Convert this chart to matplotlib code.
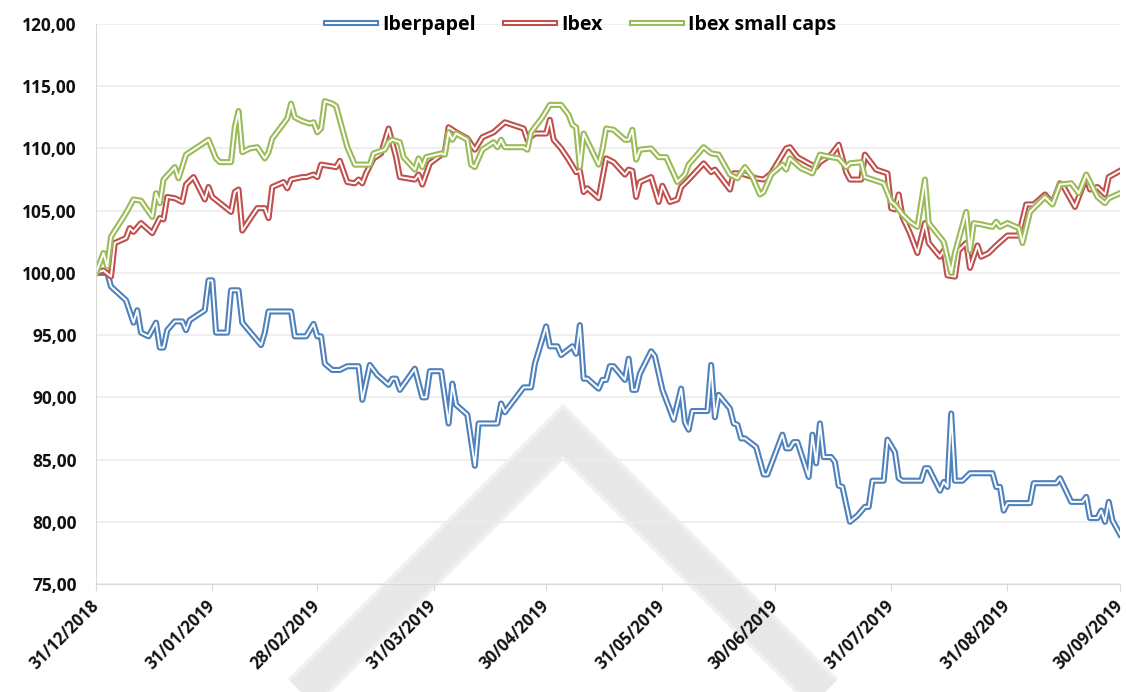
import datetime as dt
import matplotlib
matplotlib.use("Agg")
import matplotlib.pyplot as plt
from matplotlib.lines import Line2D
from matplotlib.legend_handler import HandlerTuple
from matplotlib.ticker import FuncFormatter

plt.rcParams['font.family'] = ['Open Sans', 'DejaVu Sans']
plt.rcParams['font.weight'] = 'bold'

inicio = dt.date(2018, 12, 31)

# dias desde 31/12/2018, valores base 100
iberpapel_dias = [0, 3, 4, 8, 10, 11, 12, 14, 16, 17, 18, 19, 21, 23, 24, 25, 29, 30, 31, 32,
                  35, 36, 38, 39, 44, 45, 46, 52, 53, 56, 58, 59, 60, 61, 63, 65, 67, 70, 71, 73,
                  75, 78, 79, 80, 81, 85, 87, 88, 89, 92, 94, 95, 96, 99, 101, 102, 107, 108, 109, 114,
                  116, 117, 120, 121, 123, 124, 127, 128, 129, 130, 131, 134, 135, 136, 137, 138, 141, 142, 143, 144,
                  145, 148, 149, 151, 154, 156, 157, 158, 159, 163, 164, 165, 166, 169, 170, 171, 172, 173, 176, 178,
                  179, 183, 184, 185, 186, 187, 190, 191, 192, 193, 194, 196, 197, 198, 199, 201, 203, 205, 206, 207,
                  210, 211, 213, 214, 215, 220, 221, 222, 225, 226, 227, 228, 229, 231, 233, 239, 240, 241, 242, 243,
                  249, 250, 256, 257, 260, 263, 264, 265, 267, 268, 269, 270, 271, 273]
iberpapel = [100.0, 100.0, 98.9, 97.8, 96.0, 97.0, 95.2, 94.9, 96.0, 94.0, 94.0, 95.4, 96.1, 96.1, 95.4, 96.2, 97.0, 99.4, 99.4, 95.2,
             95.2, 98.6, 98.6, 96.0, 94.2, 95.2, 96.9, 96.9, 94.9, 94.9, 95.9, 94.9, 94.9, 92.7, 92.2, 92.2, 92.5, 92.5, 89.8, 92.6,
             91.8, 91.0, 91.5, 91.5, 90.6, 92.3, 90.0, 90.0, 92.1, 92.1, 87.9, 91.1, 89.4, 88.6, 84.5, 87.9, 87.9, 89.5, 88.8, 90.8,
             90.8, 92.7, 95.7, 94.1, 94.1, 93.4, 94.1, 93.5, 95.8, 91.5, 91.5, 90.7, 91.4, 91.4, 92.5, 92.5, 91.4, 93.1, 90.6, 90.6,
             91.9, 93.7, 93.3, 90.6, 88.2, 90.7, 88.0, 87.4, 88.9, 88.9, 92.6, 88.4, 90.2, 89.1, 87.9, 87.8, 86.7, 86.7, 86.0, 83.8,
             83.8, 87.0, 85.9, 85.9, 86.4, 86.4, 83.6, 87.0, 84.7, 87.9, 85.2, 85.2, 84.8, 82.9, 82.8, 80.0, 80.5, 81.2, 81.2, 83.3,
             83.3, 86.6, 85.6, 83.5, 83.3, 83.3, 84.3, 84.3, 82.5, 83.2, 82.8, 88.7, 83.3, 83.3, 83.9, 83.9, 82.8, 82.8, 80.9, 81.5,
             81.5, 83.1, 83.1, 83.5, 81.6, 81.6, 82.0, 80.3, 80.3, 80.9, 80.0, 81.6, 80.1, 79.0]

ibex_dias = [0, 2, 4, 5, 8, 9, 10, 12, 15, 17, 18, 19, 21, 23, 24, 26, 29, 30, 31, 36,
             37, 38, 39, 43, 45, 46, 47, 50, 51, 52, 55, 56, 58, 59, 60, 64, 65, 67, 69, 70,
             71, 72, 74, 76, 78, 80, 81, 85, 86, 87, 89, 93, 94, 96, 99, 101, 103, 106, 109, 114,
             115, 117, 120, 121, 122, 124, 126, 128, 129, 130, 131, 134, 136, 138, 141, 142, 143, 144, 145, 148,
             150, 151, 153, 155, 156, 158, 162, 164, 165, 169, 170, 172, 176, 178, 180, 184, 185, 187, 190, 192,
             193, 196, 198, 200, 201, 204, 205, 208, 211, 212, 213, 214, 215, 217, 219, 221, 222, 225, 226, 227,
             229, 230, 232, 233, 235, 236, 238, 240, 243, 246, 248, 250, 253, 255, 257, 258, 261, 264, 265, 267,
             269, 270, 273]
ibex = [100.0, 100.2, 99.7, 102.4, 102.8, 103.6, 103.3, 104.0, 103.2, 104.4, 104.3, 106.1, 106.0, 105.7, 107.1, 107.7, 105.9, 106.9, 106.1, 104.9,
        106.5, 106.7, 103.4, 105.2, 105.2, 104.4, 106.9, 107.3, 106.8, 107.5, 107.7, 107.7, 107.9, 107.7, 108.7, 108.5, 109.0, 107.3, 107.2, 107.5,
        107.2, 108.0, 109.2, 109.6, 111.6, 109.3, 107.7, 107.5, 107.9, 107.1, 108.8, 109.7, 111.7, 111.3, 110.8, 109.9, 110.9, 111.3, 112.1, 111.6,
        110.7, 111.2, 111.2, 112.3, 110.7, 110.0, 109.1, 108.1, 108.2, 106.5, 106.8, 106.0, 109.2, 108.9, 107.9, 108.3, 108.2, 106.1, 107.3, 107.7,
        105.7, 107.0, 105.7, 105.9, 106.9, 107.5, 108.8, 108.1, 108.3, 106.7, 108.0, 108.0, 107.6, 107.5, 108.0, 110.0, 110.1, 109.3, 108.8, 108.5,
        108.9, 109.5, 110.3, 108.1, 107.5, 107.5, 109.5, 108.3, 108.0, 105.2, 105.1, 106.3, 104.5, 103.2, 101.6, 104.0, 102.4, 101.3, 101.8, 99.8,
        99.7, 101.8, 102.4, 100.4, 102.2, 101.3, 101.6, 102.2, 103.0, 103.0, 105.5, 105.5, 106.3, 105.6, 107.2, 106.9, 105.3, 107.7, 106.7, 106.9,
        106.3, 107.7, 108.2]

small_dias = [0, 2, 3, 4, 8, 10, 12, 15, 16, 17, 18, 21, 22, 24, 26, 30, 32, 33, 36, 37,
              38, 39, 41, 43, 45, 46, 47, 50, 51, 52, 53, 55, 57, 58, 59, 60, 61, 63, 64, 67,
              69, 73, 74, 77, 78, 79, 81, 82, 85, 86, 87, 88, 92, 93, 94, 95, 96, 99, 100, 101,
              103, 106, 107, 108, 109, 114, 115, 116, 119, 121, 124, 126, 127, 128, 129, 130, 134, 135, 136, 138,
              141, 142, 143, 144, 145, 148, 150, 152, 155, 157, 158, 162, 164, 166, 169, 171, 173, 175, 177, 178,
              180, 183, 184, 185, 188, 191, 193, 196, 198, 200, 201, 204, 205, 210, 212, 213, 215, 217, 219, 221,
              222, 226, 228, 229, 232, 233, 234, 236, 239, 240, 241, 243, 246, 247, 249, 253, 255, 257, 260, 262,
              264, 267, 269, 270, 273]
small_caps = [100.0, 101.6, 100.5, 102.9, 104.8, 105.9, 105.8, 104.5, 106.4, 105.6, 107.5, 108.5, 107.6, 109.5, 109.9, 110.7, 109.2, 108.9, 108.9, 111.7,
              113.0, 109.7, 110.0, 110.1, 109.2, 109.7, 110.8, 112.0, 112.4, 113.6, 112.5, 112.2, 112.0, 112.1, 111.3, 111.6, 113.8, 113.6, 113.4, 110.1,
              108.7, 108.7, 109.6, 109.9, 110.5, 110.7, 110.5, 109.3, 108.3, 109.2, 108.5, 109.3, 109.6, 109.5, 111.3, 110.7, 111.2, 110.7, 108.7, 108.5,
              109.9, 110.5, 110.1, 110.7, 110.1, 110.1, 109.9, 111.3, 112.5, 113.5, 113.5, 112.7, 111.9, 111.7, 108.5, 111.2, 108.7, 109.9, 111.6, 111.5,
              110.7, 110.7, 111.5, 109.1, 109.9, 110.0, 109.3, 109.3, 107.3, 107.9, 108.7, 110.1, 109.6, 109.5, 107.9, 107.6, 108.5, 107.7, 106.3, 106.5,
              107.9, 108.7, 108.3, 109.2, 108.4, 108.0, 109.5, 109.3, 109.2, 108.5, 108.8, 108.9, 107.7, 107.2, 105.7, 105.5, 104.7, 104.1, 103.7, 107.5,
              104.0, 102.5, 100.0, 101.6, 104.9, 101.8, 104.0, 103.9, 103.7, 104.1, 103.7, 104.0, 103.6, 102.4, 104.9, 106.1, 105.5, 107.1, 107.2, 106.4,
              107.9, 106.1, 105.6, 106.0, 106.4]

nombres = ["Iberpapel", "Ibex", "Ibex small caps"]
colores = ["#4f81bd", "#c0504d", "#9bbb59"]
fin_mes = ["31/12/2018", "31/01/2019", "28/02/2019", "31/03/2019", "30/04/2019",
           "31/05/2019", "30/06/2019", "31/07/2019", "31/08/2019", "30/09/2019"]


def fechas(dias):
    return [inicio + dt.timedelta(days=d) for d in dias]


W, H = 1126, 692
fig = plt.figure(figsize=(W / 100, H / 100), dpi=100)
ax = fig.add_axes([96 / W, 1 - 584 / H, 1024 / W, 560 / H])
ax.set_facecolor('none')
ax.set_zorder(1)

# marca de agua (chevron gris)
wx = [(563 - 320) / W, 563 / W, (563 + 320) / W]
wy = [1 - 752 / H, 1 - 432 / H, 1 - 752 / H]
fig.add_artist(Line2D(wx, wy, transform=fig.transFigure, lw=29, color='#f1f1f1',
                      solid_joinstyle='miter', solid_capstyle='butt', zorder=0))
fig.add_artist(Line2D(wx, wy, transform=fig.transFigure, lw=24, color='#e8e8e8',
                      solid_joinstyle='miter', solid_capstyle='butt', zorder=0))

handles = []
for nombre, dias, vals, c in zip(nombres, [iberpapel_dias, ibex_dias, small_dias],
                                 [iberpapel, ibex, small_caps], colores):
    x = fechas(dias)
    ax.plot(x, vals, color=c, lw=4.4, solid_joinstyle='round')
    ax.plot(x, vals, color='white', lw=1.4, solid_joinstyle='round')
    handles.append((Line2D([], [], color=c, lw=4.4), Line2D([], [], color='white', lw=1.4)))

ax.set_xlim(inicio, inicio + dt.timedelta(days=273))
ax.set_ylim(75, 120)
ax.set_yticks(range(75, 121, 5))
ax.yaxis.set_major_formatter(FuncFormatter(lambda v, p: f"{v:.2f}".replace('.', ',')))

ticks = [dt.datetime.strptime(s, "%d/%m/%Y").date() for s in fin_mes]
ax.set_xticks(ticks)
ax.set_xticklabels(fin_mes, rotation=45, ha='right', va='center', rotation_mode='anchor')

ax.grid(axis='y', color='#ececec', lw=1.2)
ax.set_axisbelow(True)
for s in ['top', 'right']:
    ax.spines[s].set_visible(False)
ax.spines['left'].set_color('#d9d9d9')
ax.spines['bottom'].set_color('#d9d9d9')
ax.tick_params(axis='x', length=5, color='#d9d9d9', labelsize=12, pad=9, labelcolor='#111111')
ax.tick_params(axis='y', length=0, labelsize=12.5, pad=14, labelcolor='#111111')

leg = fig.legend(handles, nombres, handler_map={tuple: HandlerTuple(ndivide=1)},
                 loc='center', bbox_to_anchor=(581 / W, 1 - 25 / H), ncol=3,
                 fontsize=14, handlelength=2.6, handletextpad=0.3, columnspacing=1.5,
                 frameon=False, borderpad=0.1, borderaxespad=0)
leg.set_zorder(5)

fig.savefig("out.png", dpi=100)
